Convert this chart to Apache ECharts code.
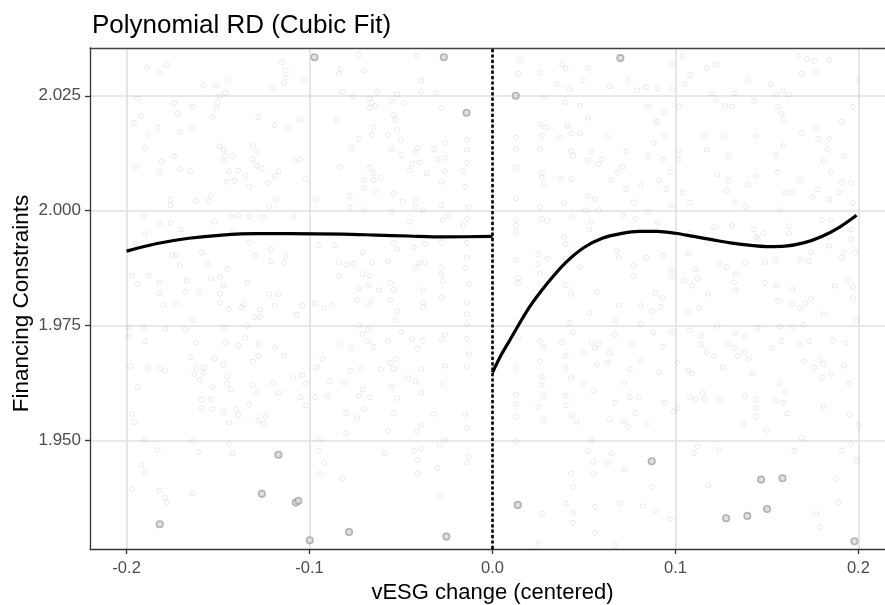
<!DOCTYPE html>
<html>
<head>
<meta charset="utf-8">
<title>Polynomial RD (Cubic Fit)</title>
<script src="https://cdn.jsdelivr.net/npm/echarts@6/dist/echarts.min.js"></script>
<style>
  html, body { margin: 0; padding: 0; background: #fff; }
  #chart { width: 885px; height: 605px; }
</style>
</head>
<body>
<div id="chart"></div>
<script>
// tick labels
const xTicks = [-0.2, -0.1, 0.0, 0.1, 0.2]
const yTicks = [1.950, 1.975, 2.000, 2.025]

// cubic fit, left of cutoff
const leftFitX = [-0.200, -0.184, -0.166, -0.148, -0.129, -0.111, -0.082, -0.064, -0.046, -0.027, 0.000]
const leftFitY = [1.9912, 1.9928, 1.9940, 1.9947, 1.9950, 1.9950, 1.9949, 1.9947, 1.9945, 1.9943, 1.9944]

// cubic fit, right of cutoff
const rightFitX = [0.000, 0.005, 0.010, 0.020, 0.030, 0.040, 0.050, 0.060, 0.070, 0.080, 0.090, 0.100, 0.110, 0.120, 0.130, 0.140, 0.150, 0.160, 0.170, 0.180, 0.190, 0.199]
const rightFitY = [1.9648, 1.9688, 1.9722, 1.9789, 1.9842, 1.9887, 1.9920, 1.9940, 1.9950, 1.9955, 1.9955, 1.9951, 1.9944, 1.9937, 1.9930, 1.9925, 1.9922, 1.9923, 1.9930, 1.9944, 1.9965, 1.9990]

// darker (overplotted) observations
const darkPoints = [
  [-0.0973, 2.0334], [-0.0266, 2.0334], [-0.0142, 2.0213], [-0.1170, 1.9469], [-0.1261, 1.9384],
  [-0.1075, 1.9365], [-0.1061, 1.9369], [-0.1819, 1.9318], [-0.0999, 1.9283], [-0.0784, 1.9301],
  [-0.0252, 1.9291], [0.0699, 2.0332], [0.0127, 2.0250], [0.0870, 1.9455], [0.0138, 1.9360],
  [0.1585, 1.9418], [0.1468, 1.9415], [0.1501, 1.9351], [0.1393, 1.9336], [0.1277, 1.9331],
  [0.1978, 1.9281]
]

// faint observations, left of cutoff
const pointsLeft = [
  [-0.189,2.0312],[-0.182,2.0300],[-0.178,2.0318],[-0.158,2.0272],[-0.151,2.0272],[-0.145,2.0284],[-0.115,2.0323],[-0.113,2.0305],
  [-0.113,2.0290],[-0.114,2.0277],[-0.120,2.0266],[-0.103,2.0285],[-0.146,2.0257],[-0.149,2.0250],[-0.194,2.0244],[-0.174,2.0234],
  [-0.164,2.0226],[-0.150,2.0236],[-0.151,2.0223],[-0.172,2.0211],[-0.192,2.0207],[-0.196,2.0191],[-0.188,2.0167],[-0.183,2.0181],
  [-0.171,2.0172],[-0.164,2.0178],[-0.153,2.0204],[-0.128,2.0204],[-0.119,2.0186],[-0.112,2.0181],[-0.105,2.0198],[-0.190,2.0137],
  [-0.174,2.0118],[-0.181,2.0107],[-0.171,2.0091],[-0.165,2.0086],[-0.182,2.0085],[-0.195,2.0096],[-0.149,2.0140],[-0.147,2.0133],
  [-0.146,2.0120],[-0.147,2.0108],[-0.142,2.0118],[-0.131,2.0141],[-0.129,2.0130],[-0.131,2.0112],[-0.129,2.0098],[-0.126,2.0092],
  [-0.144,2.0086],[-0.139,2.0087],[-0.135,2.0076],[-0.145,2.0063],[-0.141,2.0065],[-0.133,2.0053],[-0.123,2.0060],[-0.119,2.0075],
  [-0.117,2.0086],[-0.108,2.0108],[-0.105,2.0111],[-0.102,2.0069],[-0.176,2.0024],[-0.176,2.0012],[-0.162,2.0022],[-0.155,2.0020],
  [-0.154,2.0033],[-0.118,2.0024],[-0.122,2.0009],[-0.191,1.9988],[-0.182,1.9973],[-0.176,1.9973],[-0.170,1.9959],[-0.190,1.9949],
  [-0.152,1.9976],[-0.143,1.9988],[-0.139,1.9989],[-0.133,1.9988],[-0.125,1.9985],[-0.109,1.9988],[-0.142,1.9956],[-0.133,1.9931],
  [-0.195,1.9928],[-0.175,1.9902],[-0.173,1.9905],[-0.159,1.9909],[-0.130,1.9902],[-0.121,1.9915],[-0.113,1.9901],[-0.121,1.9890],
  [-0.114,1.9886],[-0.171,1.9880],[-0.156,1.9885],[-0.197,1.9859],[-0.188,1.9859],[-0.182,1.9844],[-0.167,1.9848],[-0.154,1.9853],
  [-0.149,1.9856],[-0.145,1.9873],[-0.194,1.9840],[-0.147,1.9837],[-0.134,1.9843],[-0.182,1.9821],[-0.168,1.9824],[-0.160,1.9825],
  [-0.149,1.9819],[-0.122,1.9819],[-0.117,1.9819],
  [-0.073,2.0339],[-0.041,2.0337],[-0.083,2.0308],[-0.070,2.0305],[-0.084,2.0298],[-0.039,2.0283],[-0.082,2.0259],[-0.076,2.0249],
  [-0.063,2.0259],[-0.052,2.0253],[-0.039,2.0260],[-0.031,2.0257],[-0.067,2.0244],[-0.066,2.0234],[-0.064,2.0228],[-0.067,2.0224],
  [-0.055,2.0237],[-0.048,2.0234],[-0.028,2.0224],[-0.054,2.0208],[-0.053,2.0198],[-0.085,2.0197],[-0.065,2.0182],[-0.066,2.0165],
  [-0.073,2.0156],[-0.057,2.0165],[-0.050,2.0155],[-0.052,2.0176],[-0.014,2.0155],[-0.014,2.0133],[-0.014,2.0104],[-0.016,2.0086],
  [-0.077,2.0136],[-0.055,2.0134],[-0.050,2.0121],[-0.041,2.0137],[-0.042,2.0127],[-0.032,2.0134],[-0.026,2.0147],[-0.030,2.0112],
  [-0.026,2.0115],[-0.044,2.0102],[-0.040,2.0105],[-0.083,2.0095],[-0.067,2.0094],[-0.065,2.0082],[-0.061,2.0072],[-0.070,2.0066],
  [-0.065,2.0067],[-0.070,2.0049],[-0.064,2.0044],[-0.045,2.0088],[-0.036,2.0081],[-0.026,2.0086],[-0.028,2.0063],[-0.015,2.0052],
  [-0.054,2.0038],[-0.078,2.0033],[-0.096,2.0024],[-0.078,2.0007],[-0.070,2.0001],[-0.049,2.0020],[-0.042,2.0025],[-0.042,2.0009],
  [-0.038,2.0001],[-0.055,1.9998],[-0.028,2.0012],[-0.013,2.0008],[-0.045,1.9976],[-0.027,1.9980],[-0.024,1.9989],[-0.016,1.9967],
  [-0.014,1.9982],[-0.095,1.9925],[-0.086,1.9925],[-0.071,1.9909],[-0.054,1.9930],[-0.052,1.9917],[-0.043,1.9920],[-0.037,1.9928],
  [-0.028,1.9931],[-0.014,1.9930],[-0.084,1.9888],[-0.080,1.9883],[-0.076,1.9885],[-0.066,1.9888],[-0.057,1.9890],[-0.042,1.9877],
  [-0.040,1.9886],[-0.037,1.9888],[-0.028,1.9877],[-0.015,1.9876],[-0.014,1.9898],[-0.084,1.9857],[-0.071,1.9862],[-0.067,1.9859],
  [-0.056,1.9843],[-0.028,1.9862],[-0.027,1.9847],[-0.013,1.9840],[-0.073,1.9831],[-0.068,1.9837],[-0.062,1.9827],[-0.054,1.9828],
  [-0.038,1.9827],
  [-0.180,1.9795],[-0.173,1.9801],[-0.149,1.9800],[-0.144,1.9786],[-0.136,1.9797],[-0.137,1.9790],[-0.127,1.9785],[-0.130,1.9768],
  [-0.127,1.9769],[-0.119,1.9793],[-0.107,1.9774],[-0.104,1.9793],[-0.164,1.9762],[-0.199,1.9746],[-0.191,1.9746],[-0.179,1.9743],
  [-0.168,1.9742],[-0.147,1.9746],[-0.134,1.9750],[-0.199,1.9726],[-0.190,1.9716],[-0.162,1.9713],[-0.146,1.9713],[-0.139,1.9707],
  [-0.135,1.9723],[-0.128,1.9710],[-0.119,1.9703],[-0.114,1.9685],[-0.128,1.9684],[-0.131,1.9672],[-0.165,1.9681],[-0.152,1.9678],
  [-0.147,1.9665],[-0.198,1.9662],[-0.188,1.9658],[-0.182,1.9655],[-0.179,1.9652],[-0.162,1.9658],[-0.158,1.9659],[-0.163,1.9645],
  [-0.158,1.9648],[-0.160,1.9632],[-0.145,1.9640],[-0.145,1.9624],[-0.153,1.9616],[-0.143,1.9611],[-0.131,1.9621],[-0.120,1.9626],
  [-0.109,1.9636],[-0.104,1.9642],[-0.102,1.9624],[-0.194,1.9616],[-0.129,1.9603],[-0.117,1.9604],[-0.105,1.9594],[-0.102,1.9576],
  [-0.159,1.9589],[-0.154,1.9589],[-0.159,1.9571],[-0.153,1.9568],[-0.147,1.9563],[-0.140,1.9568],[-0.139,1.9555],[-0.133,1.9578],
  [-0.144,1.9539],[-0.128,1.9543],[-0.125,1.9537],[-0.124,1.9552],[-0.197,1.9558],[-0.196,1.9540],[-0.190,1.9502],[-0.164,1.9498],
  [-0.144,1.9491],[-0.183,1.9479],[-0.161,1.9475],[-0.142,1.9472],[-0.192,1.9447],[-0.190,1.9431],[-0.197,1.9394],[-0.182,1.9391],
  [-0.179,1.9376],[-0.178,1.9366],[-0.164,1.9385],
  [-0.074,1.9806],[-0.066,1.9805],[-0.056,1.9805],[-0.028,1.9811],[-0.038,1.9800],[-0.038,1.9790],[-0.014,1.9800],[-0.014,1.9775],
  [-0.014,1.9755],[-0.052,1.9782],[-0.053,1.9761],[-0.097,1.9798],[-0.092,1.9788],[-0.088,1.9793],[-0.068,1.9793],[-0.073,1.9750],
  [-0.068,1.9742],[-0.071,1.9732],[-0.068,1.9716],[-0.065,1.9704],[-0.050,1.9736],[-0.057,1.9717],[-0.083,1.9710],[-0.077,1.9703],
  [-0.044,1.9720],[-0.038,1.9717],[-0.041,1.9700],[-0.028,1.9720],[-0.026,1.9730],[-0.014,1.9721],[-0.013,1.9688],[-0.014,1.9662],
  [-0.093,1.9678],[-0.096,1.9659],[-0.078,1.9652],[-0.072,1.9655],[-0.061,1.9655],[-0.054,1.9656],[-0.053,1.9678],[-0.056,1.9669],
  [-0.039,1.9655],[-0.026,1.9663],[-0.089,1.9629],[-0.081,1.9626],[-0.071,1.9611],[-0.055,1.9617],[-0.046,1.9636],[-0.042,1.9629],
  [-0.039,1.9604],[-0.027,1.9623],[-0.097,1.9594],[-0.090,1.9597],[-0.073,1.9597],[-0.067,1.9594],[-0.052,1.9593],[-0.070,1.9569],
  [-0.080,1.9560],[-0.074,1.9549],[-0.054,1.9559],[-0.032,1.9558],[-0.015,1.9558],[-0.080,1.9516],[-0.057,1.9521],[-0.041,1.9520],
  [-0.039,1.9534],[-0.014,1.9527],[-0.094,1.9504],[-0.026,1.9500],[-0.029,1.9489],[-0.095,1.9478],[-0.059,1.9473],[-0.043,1.9478],
  [-0.039,1.9482],[-0.092,1.9452],[-0.041,1.9457],[-0.013,1.9465],[-0.014,1.9452],[-0.094,1.9428],[-0.082,1.9418],[-0.041,1.9428],
  [-0.030,1.9440],[-0.029,1.9378]
]

// faint observations, right of cutoff
const pointsRight = [
  [0.015,2.0326],[0.014,2.0298],[0.026,2.0301],[0.038,2.0318],[0.040,2.0310],[0.052,2.0310],[0.035,2.0275],[0.042,2.0265],
  [0.049,2.0284],[0.064,2.0271],[0.074,2.0284],[0.079,2.0262],[0.084,2.0269],[0.090,2.0266],[0.098,2.0263],[0.098,2.0318],
  [0.104,2.0336],[0.108,2.0295],[0.117,2.0310],[0.122,2.0318],[0.105,2.0275],[0.120,2.0255],[0.122,2.0240],[0.127,2.0228],
  [0.131,2.0227],[0.132,2.0255],[0.140,2.0284],[0.143,2.0239],[0.152,2.0275],[0.155,2.0253],[0.159,2.0260],[0.162,2.0253],
  [0.167,2.0337],[0.172,2.0330],[0.176,2.0326],[0.184,2.0328],[0.169,2.0298],[0.177,2.0301],[0.200,2.0284],[0.156,2.0226],
  [0.158,2.0211],[0.159,2.0198],[0.197,2.0226],[0.191,2.0194],[0.040,2.0236],[0.048,2.0228],[0.028,2.0246],[0.085,2.0227],
  [0.094,2.0213],[0.102,2.0227],[0.089,2.0192],[0.052,2.0202],[0.026,2.0188],[0.029,2.0181],[0.041,2.0185],[0.043,2.0168],
  [0.048,2.0168],[0.037,2.0159],[0.027,2.0163],[0.013,2.0159],[0.013,2.0134],[0.026,2.0134],[0.043,2.0130],[0.044,2.0120],
  [0.054,2.0129],[0.052,2.0110],[0.058,2.0101],[0.060,2.0112],[0.063,2.0159],[0.073,2.0129],[0.085,2.0120],[0.088,2.0147],
  [0.090,2.0194],[0.094,2.0163],[0.093,2.0111],[0.097,2.0085],[0.102,2.0130],[0.102,2.0112],[0.013,2.0094],[0.027,2.0083],
  [0.027,2.0072],[0.028,2.0057],[0.037,2.0069],[0.043,2.0069],[0.068,2.0083],[0.071,2.0095],[0.065,2.0066],[0.073,2.0047],
  [0.081,2.0054],[0.091,2.0066],[0.095,2.0047],[0.077,2.0018],[0.013,2.0027],[0.026,2.0009],[0.039,2.0017],[0.052,2.0031],
  [0.056,2.0025],[0.051,2.0001],[0.058,2.0001],[0.071,1.9989],[0.078,1.9983],[0.085,1.9998],[0.090,1.9976],[0.098,2.0011],
  [0.104,2.0040],[0.108,2.0018],[0.116,2.0163],[0.117,2.0133],[0.129,2.0120],[0.123,2.0079],[0.129,2.0065],[0.128,2.0043],
  [0.133,2.0018],[0.138,2.0009],[0.127,2.0162],[0.144,2.0162],[0.155,2.0121],[0.159,2.0141],[0.156,2.0083],[0.144,2.0075],
  [0.140,2.0057],[0.160,2.0040],[0.164,2.0040],[0.168,2.0065],[0.157,2.0001],[0.169,2.0169],[0.177,2.0182],[0.178,2.0156],
  [0.184,2.0157],[0.183,2.0134],[0.181,2.0107],[0.185,2.0085],[0.192,2.0120],[0.191,2.0062],[0.189,2.0040],[0.196,2.0060],
  [0.178,2.0046],[0.175,2.0030],[0.184,2.0024],[0.197,2.0017],[0.180,1.9979],[0.185,1.9980],[0.196,1.9959],
  [0.013,1.9980],[0.013,1.9967],[0.013,1.9953],[0.027,1.9982],[0.030,1.9978],[0.043,1.9988],[0.054,1.9976],[0.053,1.9959],
  [0.039,1.9943],[0.040,1.9928],[0.013,1.9892],[0.025,1.9905],[0.030,1.9896],[0.040,1.9896],[0.025,1.9883],[0.026,1.9863],
  [0.014,1.9854],[0.014,1.9843],[0.040,1.9838],[0.043,1.9819],[0.048,1.9877],[0.057,1.9824],[0.068,1.9912],[0.069,1.9898],
  [0.077,1.9880],[0.077,1.9859],[0.084,1.9898],[0.093,1.9902],[0.098,1.9859],[0.098,1.9873],[0.089,1.9821],[0.105,1.9848],
  [0.107,1.9907],[0.111,1.9873],[0.109,1.9837],[0.112,1.9852],[0.118,1.9819],[0.124,1.9885],[0.128,1.9877],[0.133,1.9862],
  [0.138,1.9888],[0.132,1.9844],[0.133,1.9827],[0.149,1.9843],[0.155,1.9837],[0.149,1.9888],[0.155,1.9894],[0.145,1.9938],
  [0.143,1.9959],[0.164,1.9828],[0.168,1.9894],[0.173,1.9890],[0.174,1.9909],[0.184,1.9924],[0.192,1.9909],[0.187,1.9837],
  [0.194,1.9848],[0.197,1.9834],[0.198,1.9909],[0.184,1.9944],[0.162,1.9951],[0.162,1.9966],[0.196,1.9938],[0.191,1.9898],
  [0.108,1.9951],[0.117,1.9931],[0.121,1.9964],[0.131,1.9967],[0.144,1.9943],[0.148,1.9951],
  [0.093,1.9811],[0.107,1.9780],[0.113,1.9788],[0.156,1.9804],[0.164,1.9797],[0.168,1.9788],[0.171,1.9799],[0.174,1.9808],
  [0.181,1.9775],[0.197,1.9810],[0.199,1.9762],[0.053,1.9777],[0.069,1.9794],[0.081,1.9793],[0.087,1.9781],[0.092,1.9791],
  [0.067,1.9761],[0.081,1.9753],[0.088,1.9735],[0.098,1.9736],[0.093,1.9704],[0.108,1.9740],[0.114,1.9728],[0.123,1.9749],
  [0.133,1.9734],[0.138,1.9728],[0.145,1.9745],[0.157,1.9748],[0.164,1.9748],[0.170,1.9752],[0.186,1.9717],[0.193,1.9712],
  [0.114,1.9709],[0.117,1.9692],[0.121,1.9683],[0.129,1.9711],[0.132,1.9701],[0.138,1.9693],[0.134,1.9684],[0.140,1.9677],
  [0.153,1.9702],[0.158,1.9717],[0.168,1.9710],[0.173,1.9716],[0.170,1.9672],[0.179,1.9675],[0.181,1.9666],[0.176,1.9659],
  [0.192,1.9663],[0.185,1.9645],[0.180,1.9637],[0.195,1.9624],[0.126,1.9659],[0.142,1.9646],[0.157,1.9623],[0.160,1.9604],
  [0.159,1.9582],[0.161,1.9559],[0.144,1.9589],[0.144,1.9571],[0.144,1.9552],[0.138,1.9596],[0.155,1.9586],[0.150,1.9523],
  [0.137,1.9536],[0.124,1.9589],[0.115,1.9603],[0.111,1.9590],[0.116,1.9590],[0.108,1.9594],[0.107,1.9652],[0.109,1.9646],
  [0.181,1.9575],[0.195,1.9557],[0.200,1.9532],[0.169,1.9506],[0.165,1.9478],[0.191,1.9478],[0.196,1.9491],[0.199,1.9456],
  [0.188,1.9418],[0.189,1.9365],[0.177,1.9340],[0.179,1.9311],[0.118,1.9402],[0.110,1.9473],[0.112,1.9487],[0.124,1.9479],
  [0.054,1.9500],[0.052,1.9477],[0.055,1.9454],[0.055,1.9428],[0.043,1.9428],[0.044,1.9399],[0.040,1.9363],[0.044,1.9344],
  [0.044,1.9321],[0.056,1.9356],[0.056,1.9299],[0.063,1.9452],[0.065,1.9472],[0.072,1.9437],[0.070,1.9363],[0.082,1.9357],
  [0.089,1.9348],[0.087,1.9399],[0.097,1.9329],[0.067,1.9272],[0.025,1.9275],[0.027,1.9341],[0.013,1.9499],[0.013,1.9552],
  [0.013,1.9580],[0.013,1.9600],[0.013,1.9658],[0.026,1.9672],[0.027,1.9639],[0.027,1.9621],[0.028,1.9598],[0.025,1.9573],
  [0.028,1.9545],[0.038,1.9714],[0.040,1.9685],[0.040,1.9658],[0.043,1.9636],[0.050,1.9626],[0.040,1.9598],[0.040,1.9576],
  [0.043,1.9554],[0.046,1.9541],[0.026,1.9717],[0.028,1.9704],[0.014,1.9726],[0.042,1.9756],[0.044,1.9735],[0.050,1.9692],
  [0.054,1.9714],[0.056,1.9701],[0.058,1.9710],[0.064,1.9691],[0.063,1.9669],[0.057,1.9665],[0.067,1.9731],[0.076,1.9709],
  [0.081,1.9673],[0.075,1.9655],[0.072,1.9627],[0.055,1.9609],[0.067,1.9582],[0.064,1.9546],[0.072,1.9541],[0.074,1.9529],
  [0.078,1.9559],[0.084,1.9536],[0.075,1.9594],[0.080,1.9594],[0.091,1.9648],[0.094,1.9582],[0.099,1.9563],[0.101,1.9571],
  [0.101,1.9669]
]

const fontFamily = '"Liberation Sans", Arial, sans-serif'

function zip(xs, ys) {
  return xs.map((x, i) => [x, ys[i]])
}

const myChart = echarts.init(document.getElementById('chart'))

const option = {
  backgroundColor: '#fff',
  animation: false,
  textStyle: { fontFamily: fontFamily },
  title: {
    text: 'Polynomial RD (Cubic Fit)',
    left: 87,
    top: 8,
    textStyle: { fontSize: 26, fontWeight: 'normal', color: '#000', fontFamily: fontFamily }
  },
  grid: {
    left: 90,
    right: -10,
    top: 48,
    bottom: 56,
    outerBoundsMode: 'none'
  },
  xAxis: [
    {
      type: 'value',
      min: -0.22,
      max: 0.22,
      name: 'vESG change (centered)',
      nameLocation: 'middle',
      nameGap: 33,
      nameTextStyle: { fontSize: 22, color: '#000' },
      axisLine: { onZero: false, lineStyle: { color: '#333', width: 1.3 } },
      axisTick: { length: 5, customValues: xTicks, lineStyle: { color: '#333', width: 1.3 } },
      axisLabel: {
        customValues: xTicks,
        margin: 11,
        fontSize: 16.5,
        color: '#4d4d4d',
        formatter: v => v.toFixed(1)
      },
      splitLine: { show: true, lineStyle: { color: '#e0e0e0', width: 1.6 } }
    },
    {
      // top border of panel
      type: 'value',
      position: 'top',
      min: -0.22,
      max: 0.22,
      axisLine: { show: true, onZero: false, lineStyle: { color: '#444', width: 1.3 } },
      axisTick: { show: false },
      axisLabel: { show: false },
      splitLine: { show: false }
    }
  ],
  yAxis: {
    type: 'value',
    min: 1.9264,
    max: 2.0354,
    name: 'Financing Constraints',
    nameLocation: 'middle',
    nameGap: 57,
    nameMoveOverlap: false,
    nameTextStyle: { fontSize: 22.5, color: '#000', padding: [0, 10, 0, 0] },
    axisLine: { show: true, onZero: false, lineStyle: { color: '#333', width: 1.3 } },
    axisTick: { show: true, length: 5, customValues: yTicks, lineStyle: { color: '#333', width: 1.3 } },
    axisLabel: {
      customValues: yTicks,
      margin: 9,
      fontSize: 17,
      color: '#4d4d4d',
      formatter: v => v.toFixed(3)
    },
    splitLine: { show: true, lineStyle: { color: '#e0e0e0', width: 1.6 } }
  },
  series: [
    {
      name: 'obs',
      type: 'scatter',
      silent: true,
      symbolSize: 5,
      data: pointsLeft.concat(pointsRight),
      itemStyle: {
        color: 'rgba(255,255,255,0)',
        borderColor: 'rgba(110,110,110,0.2)',
        borderWidth: 0.9
      }
    },
    {
      name: 'obs dark',
      type: 'scatter',
      silent: true,
      symbolSize: 6.5,
      data: darkPoints,
      itemStyle: {
        color: '#dadada',
        borderColor: '#a2a2a2',
        borderWidth: 1.6
      }
    },
    {
      name: 'fit left',
      type: 'line',
      smooth: 0.3,
      showSymbol: false,
      data: zip(leftFitX, leftFitY),
      lineStyle: { color: '#000', width: 3.2 },
      markLine: {
        silent: true,
        symbol: ['none', 'none'],
        label: { show: false },
        lineStyle: { color: '#000', width: 2.6, type: [3.2, 2.2] },
        data: [{ xAxis: 0 }]
      }
    },
    {
      name: 'fit right',
      type: 'line',
      smooth: 0.3,
      showSymbol: false,
      data: zip(rightFitX, rightFitY),
      lineStyle: { color: '#000', width: 3.2 }
    }
  ]
}

myChart.setOption(option)
window.onresize = myChart.resize
</script>
</body>
</html>
